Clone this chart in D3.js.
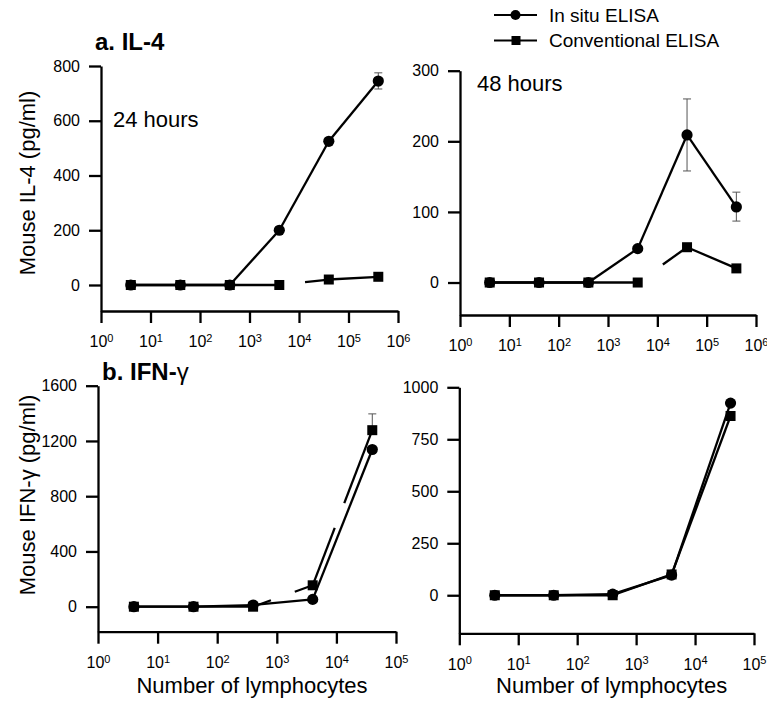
<!DOCTYPE html>
<html lang="en">
<head>
<meta charset="UTF-8">
<title>In situ vs conventional ELISA</title>
<script src="https://d3js.org/d3.v7.min.js"></script>
<style>
  body { margin: 0; background: #fff; }
  svg { display: block; font-family: "Liberation Sans", Arial, sans-serif; }
  .axis path, .axis line { stroke: #000; stroke-width: 2.3px; }
  .axis text { font-family: "Liberation Sans", Arial, sans-serif; fill: #000; }
</style>
</head>
<body>
<div id="chart"></div>
<script>
// cell counts (x) and cytokine values
const cellsA = [4, 40, 400, 4000, 40000, 400000];
const cellsB = [4, 40, 400, 4000, 40000];

const il4InSitu24 = [0, 0, 0, 200, 525, 745];
const il4Conv24   = [0, 0, 0, 0, 20, 30];
const il4InSitu48 = [0, 0, 0, 48, 209, 107];
const il4Conv48   = [0, 0, 0, 0, 50, 20];
const ifnInSitu24 = [0, 0, 12, 53, 1138];
const ifnConv24   = [0, 0, 0, 155, 1278];
const ifnInSitu48 = [0, 0, 5, 97, 924];
const ifnConv48   = [0, 0, 0, 100, 862];

// error bars: point index, low, high
const il4Err24 = [[5, 716, 775]];
const il4Err48 = [[4, 158, 260], [5, 87, 128]];
const ifnErr24 = [[4, 1278, 1396]];

const il4Ticks24 = [0, 200, 400, 600, 800];
const il4Ticks48 = [0, 100, 200, 300];
const ifnTicks24 = [0, 400, 800, 1200, 1600];
const ifnTicks48 = [0, 250, 500, 750, 1000];
const decadesA = [0, 1, 2, 3, 4, 5, 6];
const decadesB = [0, 1, 2, 3, 4, 5];

// broken-line pieces in the printed figure (segment index -> visible parts)
const convBreaks24 = {3: [[0.52, 1]]};
const convBreaks48 = {3: [[0.51, 1]]};
const ifnBreaks24 = {2: [[0, 0.3], [0.7, 1]], 3: [[0, 0.37], [0.53, 1]]};

const width = 767, height = 712;
const svg = d3.select("#chart").append("svg")
  .attr("width", width).attr("height", height);

function panel(o) {
  const x = d3.scaleLog().domain([1, Math.pow(10, o.decades[o.decades.length - 1])]).range([o.x0, o.x1]);
  const y = d3.scaleLinear().domain(o.yDomain).range([o.yBottom, o.yTop]);
  const g = svg.append("g");

  const yAxis = g.append("g").attr("class", "axis")
    .attr("transform", `translate(${o.x0},0)`)
    .call(d3.axisLeft(y).tickValues(o.yTicks).tickFormat(d3.format("d"))
      .tickSize(12).tickPadding(9).tickSizeOuter(0));
  yAxis.selectAll("text").attr("font-size", 16);

  const xAxis = g.append("g").attr("class", "axis")
    .attr("transform", `translate(0,${o.yBottom})`)
    .call(d3.axisBottom(x).tickValues(o.decades.map(d => Math.pow(10, d)))
      .tickSize(12).tickSizeOuter(0).tickFormat(() => ""));
  xAxis.selectAll(".tick text")
    .attr("y", 25).attr("dy", "0.71em").attr("font-size", 16)
    .each(function(d) {
      const t = d3.select(this);
      t.append("tspan").text("10");
      t.append("tspan").attr("font-size", 11).attr("dy", "-0.5em").text(Math.round(Math.log10(d)));
    });

  const pts = vals => vals.map((v, i) => [x(o.cells[i]), y(v)]);

  function drawLine(vals, breaks) {
    const p = pts(vals);
    for (let i = 0; i < p.length - 1; i++) {
      const parts = (breaks && breaks[i]) || [[0, 1]];
      const a0 = p[i], a1 = p[i + 1];
      parts.forEach(([a, b]) => {
        g.append("line")
          .attr("x1", a0[0] + (a1[0] - a0[0]) * a).attr("y1", a0[1] + (a1[1] - a0[1]) * a)
          .attr("x2", a0[0] + (a1[0] - a0[0]) * b).attr("y2", a0[1] + (a1[1] - a0[1]) * b)
          .attr("stroke", "#000").attr("stroke-width", 2.3);
      });
    }
  }

  // error bars
  (o.err || []).forEach(([i, lo, hi]) => {
    const cx = x(o.cells[i]);
    g.append("line").attr("x1", cx).attr("x2", cx).attr("y1", y(lo)).attr("y2", y(hi))
      .attr("stroke", "#555").attr("stroke-width", 1);
    [lo, hi].forEach(v => g.append("line")
      .attr("x1", cx - 4).attr("x2", cx + 4).attr("y1", y(v)).attr("y2", y(v))
      .attr("stroke", "#555").attr("stroke-width", 1));
  });

  drawLine(o.conv, o.breaks);
  drawLine(o.inSitu, null);

  g.selectAll(".sq").data(pts(o.conv)).join("rect")
    .attr("x", d => d[0] - 5).attr("y", d => d[1] - 5)
    .attr("width", 10).attr("height", 10).attr("fill", "#000");
  g.selectAll(".ci").data(pts(o.inSitu)).join("circle")
    .attr("cx", d => d[0]).attr("cy", d => d[1]).attr("r", 5.6).attr("fill", "#000");

  if (o.xTitle) {
    g.append("text").attr("x", (o.x0 + o.x1) / 2 + 5).attr("y", 693)
      .attr("text-anchor", "middle").attr("font-size", 22).text("Number of lymphocytes");
  }
}

panel({ x0: 101, x1: 398, yTop: 66, yBottom: 311, yDomain: [-95, 800], yTicks: il4Ticks24,
  decades: decadesA, cells: cellsA, inSitu: il4InSitu24, conv: il4Conv24,
  err: il4Err24, breaks: convBreaks24 });
panel({ x0: 460, x1: 756, yTop: 70.7, yBottom: 315, yDomain: [-46, 300], yTicks: il4Ticks48,
  decades: decadesA, cells: cellsA, inSitu: il4InSitu48, conv: il4Conv48,
  err: il4Err48, breaks: convBreaks48 });
panel({ x0: 98, x1: 396, yTop: 385.7, yBottom: 631.7, yDomain: [-181, 1600], yTicks: ifnTicks24,
  decades: decadesB, cells: cellsB, inSitu: ifnInSitu24, conv: ifnConv24,
  err: ifnErr24, breaks: ifnBreaks24, xTitle: true });
panel({ x0: 459.3, x1: 754, yTop: 387.3, yBottom: 633.3, yDomain: [-183, 1000], yTicks: ifnTicks48,
  decades: decadesB, cells: cellsB, inSitu: ifnInSitu48, conv: ifnConv48,
  err: [], breaks: null, xTitle: true });

// titles and labels
svg.append("text").attr("x", 95).attr("y", 50).attr("font-size", 24).attr("font-weight", "bold").text("a. IL-4");
const bt = svg.append("text").attr("x", 102).attr("y", 380).attr("font-size", 24).attr("font-weight", "bold");
bt.append("tspan").text("b. IFN-");
bt.append("tspan").attr("font-weight", "normal").text("γ");

svg.append("text").attr("x", 113).attr("y", 127).attr("font-size", 22).text("24 hours");
svg.append("text").attr("x", 477).attr("y", 91).attr("font-size", 22).text("48 hours");

svg.append("text").attr("transform", "translate(35,183) rotate(-90)")
  .attr("text-anchor", "middle").attr("font-size", 22).text("Mouse IL-4 (pg/ml)");
svg.append("text").attr("transform", "translate(35,495) rotate(-90)")
  .attr("text-anchor", "middle").attr("font-size", 22).text("Mouse IFN-γ (pg/ml)");

// legend
const legendItems = ["In situ ELISA", "Conventional ELISA"];
legendItems.forEach((name, i) => {
  const ly = 15 + i * 25.5;
  svg.append("line").attr("x1", 494).attr("x2", 537).attr("y1", ly).attr("y2", ly)
    .attr("stroke", "#000").attr("stroke-width", 2);
  if (i === 0) svg.append("circle").attr("cx", 515.5).attr("cy", ly).attr("r", 5).attr("fill", "#000");
  else svg.append("rect").attr("x", 511.5).attr("y", ly - 4.5).attr("width", 9).attr("height", 9).attr("fill", "#000");
  svg.append("text").attr("x", 549).attr("y", ly).attr("dy", "0.36em").attr("font-size", 19).text(name);
});
</script>
</body>
</html>
